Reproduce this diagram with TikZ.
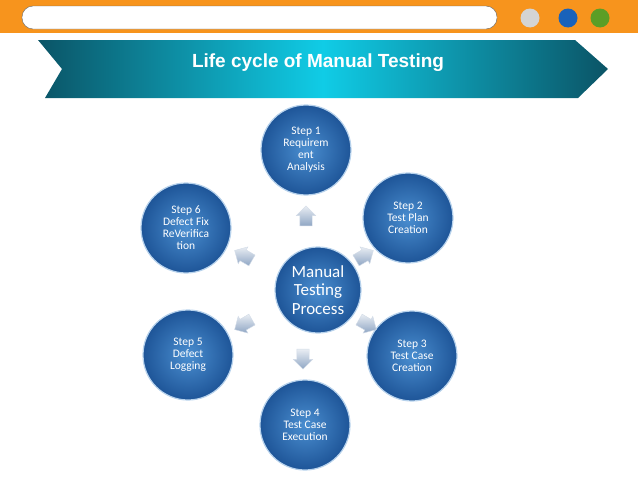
\documentclass[tikz,border=0pt]{standalone}
\usepackage{fontspec}
\setsansfont{Carlito}
\newfontfamily\titlefont{Liberation Sans}
\usetikzlibrary{shapes.arrows}
\definecolor{barorange}{HTML}{F7941D}
\definecolor{teal1}{HTML}{0B5466}
\definecolor{cyan1}{HTML}{10CCE6}
\definecolor{ballin}{HTML}{4A8ED0}
\definecolor{ballout}{HTML}{1E5598}
\definecolor{arrowgray}{HTML}{8FA6C4}
\begin{document}
\begin{tikzpicture}[x=1pt, y=-1pt,
    stepball/.style={circle, minimum size=90pt, inner sep=0pt, draw=white!60!ballin, line width=1.2pt,
                     inner color=ballin, outer color=ballout, text=white, align=center,
                     font=\sffamily\fontsize{11.5}{12}\selectfont},
    centerball/.style={stepball, minimum size=86pt, font=\sffamily\fontsize{17}{18.5}\selectfont},
    blockarrow/.style={single arrow, minimum height=20pt, single arrow head extend=3.5pt,
                     inner sep=6pt, top color=white!80!arrowgray, bottom color=arrowgray,
                     draw=white!60!arrowgray}
  ]
  \useasboundingbox (0,0) rectangle (638,479);
  % top bar
  \fill[barorange] (0,0) rectangle (638,33);
  \draw[fill=white, rounded corners=11pt, draw=black!60] (22,6) rectangle (497,29);
  \fill[black!17] (530,18) circle (9.5);
  \fill[blue!55!cyan!70!black!90] (568,18) circle (9.5);
  \fill[green!45!black!60!lime!70!gray] (600,18) circle (9.5);
  % banner
  \shade[left color=teal1, right color=teal1, middle color=cyan1]
    (38,40) -- (575,40) -- (608,69) -- (578,98) -- (45,98) -- (62,69) -- cycle;
  \node[text=white, font=\titlefont\bfseries\fontsize{19}{20}\selectfont] (title) at (318,63) {Life cycle of Manual Testing};
  % circles
  \node[centerball] (process) at (318,290) {Manual\\Testing\\Process};
  \node[stepball] (req) at (306,150) {Step 1\\Requirem\\ent\\Analysis};
  \node[stepball] (plan) at (408,218) {Step 2\\Test Plan\\Creation};
  \node[stepball] (case) at (412,356) {Step 3\\Test Case\\Creation};
  \node[stepball] (exec) at (305,425) {Step 4\\Test Case\\Execution};
  \node[stepball] (defect) at (188,355) {Step 5\\Defect\\Logging};
  \node[stepball] (fix) at (186,228) {Step 6\\Defect Fix\\ReVerifica\\tion};
  % arrows around the centre
  \node[blockarrow, rotate=90] (a1) at (306,219) {};
  \node[blockarrow, rotate=30] (a2) at (362,257) {};
  \node[blockarrow, rotate=-30] (a3) at (365,323) {};
  \node[blockarrow, rotate=-90] (a4) at (303,356) {};
  \node[blockarrow, rotate=-150] (a5) at (246,323) {};
  \node[blockarrow, rotate=150] (a6) at (246,257) {};
\end{tikzpicture}
\end{document}
